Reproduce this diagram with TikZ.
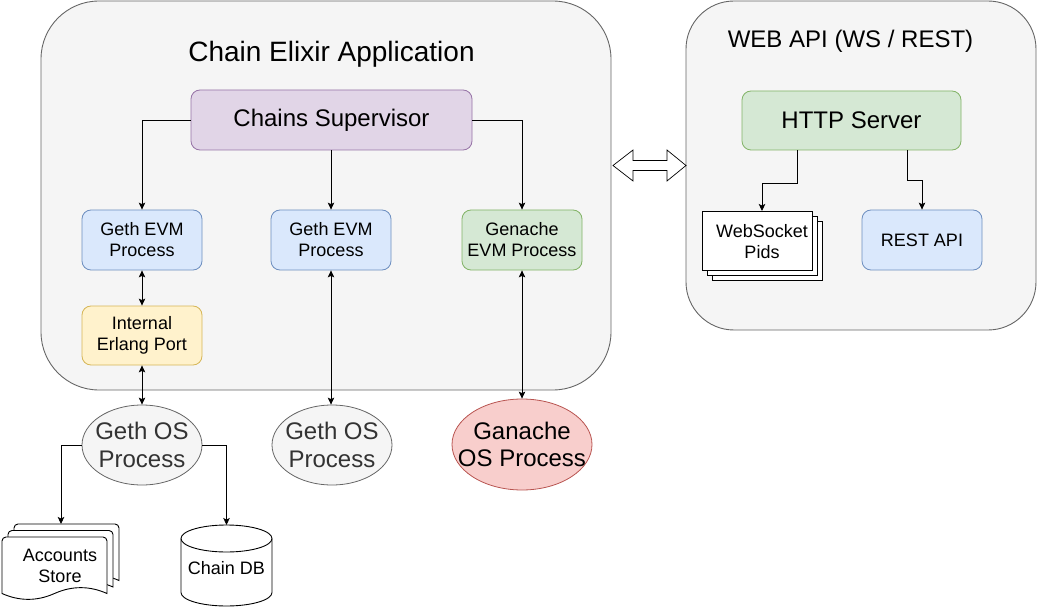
\documentclass[tikz,border=0pt]{standalone}
\usepackage{fontspec}
\setmainfont{Liberation Sans}
\usetikzlibrary{arrows.meta,shapes.geometric}
\definecolor{contfill}{HTML}{F5F5F5}
\definecolor{contline}{HTML}{666666}
\definecolor{bluefill}{HTML}{DAE8FC}
\definecolor{blueline}{HTML}{6C8EBF}
\definecolor{purpfill}{HTML}{E1D5E7}
\definecolor{purpline}{HTML}{9673A6}
\definecolor{greenfill}{HTML}{D5E8D4}
\definecolor{greenline}{HTML}{82B366}
\definecolor{yelfill}{HTML}{FFF2CC}
\definecolor{yelline}{HTML}{D6B656}
\definecolor{redfill}{HTML}{F8CECC}
\definecolor{redline}{HTML}{B85450}
\definecolor{ostext}{HTML}{333333}
\newcommand\mydocshape[2]{%
  \draw[docstyle, shift={(#1,#2)}] (0,56.5) [rounded corners=4pt] -- (0,0) -- (105,0) [sharp corners] -- (105,56.5)
    .. controls (87.5,48.7) and (70,48.7) .. (52.5,56.5)
    .. controls (35,64.3) and (17.5,64.3) .. (0,56.5) -- cycle;}
\begin{document}
\begin{tikzpicture}[x=1pt,y=-1pt,
  container/.style={draw=contline, fill=contfill, line width=0.9pt},
  box/.style={draw, rounded corners=9pt, minimum width=120pt, minimum height=60pt, align=center, inner sep=0pt, line width=0.8pt, font=\fontsize{18}{21}\selectfont},
  bigbox/.style={box, font=\fontsize{24}{28}\selectfont},
  bluebox/.style={box, draw=blueline, fill=bluefill},
  osell/.style={ellipse, draw=contline, fill=contfill, line width=0.8pt, minimum width=120pt, minimum height=80pt, inner sep=0pt},
  ostxt/.style={align=center, inner sep=0pt, text=ostext, font=\fontsize{24}{27.5}\selectfont},
  plainrect/.style={draw=black, fill=white, line width=0.9pt, minimum width=110pt, minimum height=59pt, inner sep=0pt},
  docstyle/.style={draw=black, fill=white, line width=0.9pt},
  smalltxt/.style={align=center, inner sep=0pt, font=\fontsize{18}{21}\selectfont},
  arr/.style={-{Stealth[length=7pt,width=6.5pt,inset=1.5pt]}, line width=0.9pt},
  darr/.style={{Stealth[length=7pt,width=6.5pt,inset=1.5pt]}-{Stealth[length=7pt,width=6.5pt,inset=1.5pt]}, line width=0.9pt},
  lbl/.style={inner sep=0pt, anchor=base}
]
\useasboundingbox (0,0) rectangle (1037,607);

% containers
\draw[container, rounded corners=58pt] (41,1) rectangle (611,390);
\draw[container, rounded corners=48pt] (686,1) rectangle (1036,330);

\node[lbl, font=\fontsize{28}{32}\selectfont] (title) at (331.5,62) {Chain Elixir Application};
\node[lbl, font=\fontsize{24}{28}\selectfont] (webtitle) at (850.5,48) {WEB API (WS / REST)};

% left boxes
\node[bigbox, draw=purpline, fill=purpfill, minimum width=281pt] (sup) at (331.5,120) {Chains Supervisor};
\node[bluebox] (evm1) at (142,240) {Geth EVM\\Process};
\node[box, draw=yelline, fill=yelfill, minimum height=59pt] (port) at (142,335.5) {Internal\\Erlang Port};
\node[bluebox] (evm2) at (331,240) {Geth EVM\\Process};
\node[box, draw=greenline, fill=greenfill] (gen) at (522,240) {Genache\\EVM Process};

% OS processes
\node[osell] (os1) at (142,445) {};
\node[ostxt] (os1t) at (os1) {Geth OS\\Process};
\node[osell] (os2) at (332,445) {};
\node[ostxt] (os2t) at (os2) {Geth OS\\Process};
\node[osell, draw=redline, fill=redfill, minimum width=140pt, minimum height=91pt] (os3) at (522,444.5) {};
\node[ostxt, text=black] (os3t) at (os3) {Ganache\\OS Process};

% right boxes
\node[bigbox, draw=greenline, fill=greenfill, minimum width=219pt, minimum height=59pt] (http) at (851.5,120.5) {HTTP Server};
\node[bluebox] (rest) at (922,240) {REST API};
\node[plainrect] (ws3) at (767,250.5) {};
\node[plainrect] (ws2) at (762,245.5) {};
\node[plainrect] (ws1) at (757,240.5) {};
\node[smalltxt] (wstext) at (762,242) {WebSocket\\Pids};
\coordinate (wsTop) at (762,211);

% double arrow between containers
\draw[draw=black, fill=white, line width=0.7pt] (613,165.5) -- (633,150) -- (633,160.5) -- (667,160.5) -- (667,150) -- (686,165.5) -- (667,181) -- (667,170.5) -- (633,170.5) -- (633,181) -- cycle;

% accounts store (multi document)
\mydocshape{14}{524}
\mydocshape{8}{530.5}
\mydocshape{2}{537}
\node[smalltxt] (acc) at (60,566) {Accounts\\Store};
\coordinate (accTop) at (61,524);

% chain DB cylinder
\draw[docstyle] (181,538.5) -- (181,592.5) arc[start angle=180, end angle=360, x radius=45.5pt, y radius=13.5pt] -- (272,538.5) arc[start angle=0, end angle=180, x radius=45.5pt, y radius=13.5pt] -- cycle;
\draw[line width=0.9pt] (181,538.5) arc[start angle=180, end angle=360, x radius=45.5pt, y radius=13.5pt];
\node[smalltxt] (db) at (226.5,568) {Chain DB};
\coordinate (dbTop) at (226.5,525);

% connectors
\draw[arr] (sup.west) -| (evm1.north);
\draw[arr] (evm2.north |- sup.south) -- (evm2.north);
\draw[arr] (sup.east) -| (gen.north);
\draw[darr] (evm1.south) -- (port.north);
\draw[darr] (port.south) -- (os1.north);
\draw[darr] (evm2.south) -- (evm2.south |- os2.north);
\draw[darr] (gen.south) -- (os3.north);
\draw[arr] (os1.west) -| (accTop);
\draw[arr] (os1.east) -| (dbTop);
\draw[arr] ([xshift=-54.5pt]http.south) -- ++(0,33) -| (wsTop);
\draw[arr] ([xshift=55.5pt]http.south) -- ++(0,30) -| (rest.north);
\end{tikzpicture}
\end{document}
